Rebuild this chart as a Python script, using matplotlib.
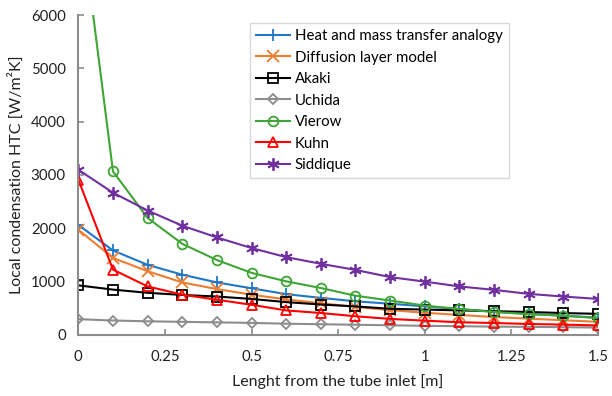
import numpy as np
import matplotlib
matplotlib.use('Agg')
import matplotlib.pyplot as plt

plt.rcParams['font.family'] = ['Lato', 'DejaVu Sans']

length = [0, 0.1, 0.2, 0.3, 0.4, 0.5, 0.6, 0.7, 0.8, 0.9, 1.0, 1.1, 1.2, 1.3, 1.4, 1.5]

heat_mass = [2060, 1580, 1310, 1125, 980, 870, 760, 690, 625, 580, 530, 480, 430, 390, 355, 320]
diffusion = [1970, 1440, 1190, 980, 855, 750, 660, 590, 520, 460, 410, 370, 330, 300, 270, 240]
akaki = [925, 845, 785, 745, 715, 670, 610, 565, 530, 485, 470, 455, 440, 425, 405, 390]
uchida = [290, 265, 250, 240, 230, 220, 205, 195, 185, 175, 165, 158, 150, 145, 140, 132]
vierow = [8200, 3065, 2190, 1705, 1400, 1160, 1000, 875, 730, 640, 545, 480, 425, 385, 355, 310]
kuhn = [2910, 1220, 905, 750, 655, 560, 455, 405, 345, 295, 262, 232, 218, 200, 188, 172]
siddique = [3095, 2665, 2330, 2045, 1825, 1625, 1455, 1330, 1215, 1080, 995, 905, 840, 765, 715, 670]

series = [
    ('Heat and mass transfer analogy', heat_mass, '#1F77C8', '+'),
    ('Diffusion layer model', diffusion, '#ED7D31', 'x'),
    ('Akaki', akaki, '#000000', 's'),
    ('Uchida', uchida, '#8C8C8C', 'D'),
    ('Vierow', vierow, '#3FA535', 'o'),
    ('Kuhn', kuhn, '#FF0000', '^'),
    ('Siddique', siddique, '#7030A0', (6, 2, 0)),
]

fig = plt.figure(figsize=(6.12, 3.96), dpi=100)
ax = fig.add_axes([0.128, 0.155, 0.849, 0.807])

for name, vals, color, marker in series:
    ms = 9 if marker in ('+', 'x', (6, 2, 0)) else 7
    if marker == 'D':
        ms = 5.5
    ax.plot(length, vals, color=color, marker=marker, markersize=ms,
            markerfacecolor='none', markeredgecolor=color, markeredgewidth=1.3,
            linewidth=1.5, label=name)

ax.set_xlim(0, 1.5)
ax.set_ylim(0, 6000)
ax.set_xticks([0, 0.25, 0.5, 0.75, 1, 1.25, 1.5])
ax.set_xticklabels(['0', '0.25', '0.5', '0.75', '1', '1.25', '1.5'])
ax.set_yticks(range(0, 6001, 1000))

for side in ['top', 'right']:
    ax.spines[side].set_visible(False)
for side in ['left', 'bottom']:
    ax.spines[side].set_color('#8C8C8C')
    ax.spines[side].set_linewidth(1.5)
ax.tick_params(direction='in', color='#8C8C8C', width=1.2, length=4,
               labelsize=10.8, labelcolor='#222222')
ax.tick_params(axis='x', pad=11)
ax.tick_params(axis='y', pad=9)

ax.set_xlabel('Lenght from the tube inlet [m]', fontsize=11.5, color='#222222', labelpad=7)
ax.set_ylabel('Local condensation HTC [W/m²K]', fontsize=11.5, color='#222222', labelpad=5)

leg = ax.legend(loc='upper left', bbox_to_anchor=(0.33, 0.975), fontsize=10.8,
                frameon=True, fancybox=False, handlelength=2.3, handletextpad=0.3,
                labelspacing=0.5, borderpad=0.4, borderaxespad=0)
leg.get_frame().set_edgecolor('#D0D0D0')
leg.get_frame().set_linewidth(1.0)

fig.savefig('out.png', dpi=100)
